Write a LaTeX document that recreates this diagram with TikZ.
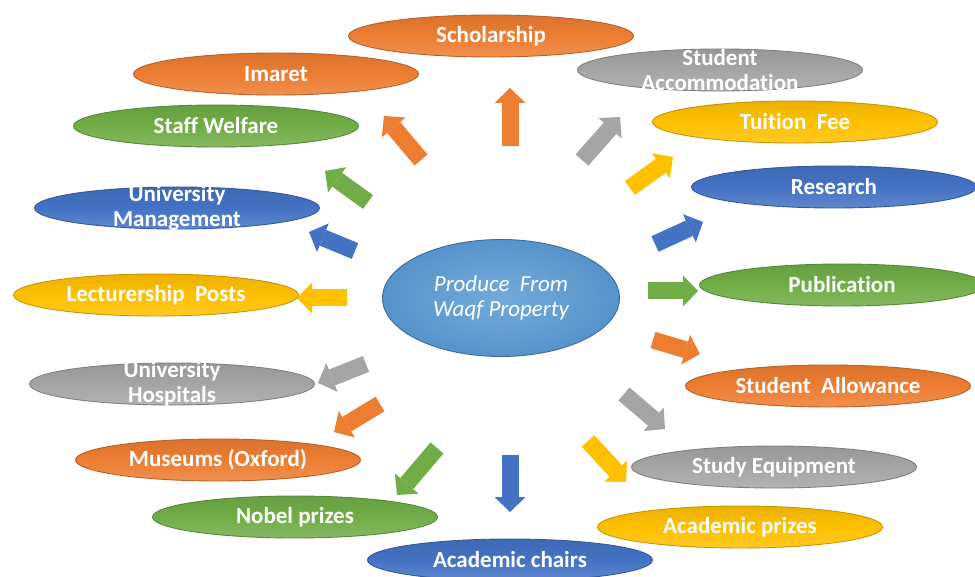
\documentclass[tikz,border=0pt]{standalone}
\usepackage{fontspec}
\setmainfont{Carlito}[Ligatures=NoCommon]
\usetikzlibrary{arrows.meta,shapes.geometric}
\definecolor{cOrange}{HTML}{ED7D31}
\definecolor{cGray}{HTML}{A5A5A5}
\definecolor{cYellow}{HTML}{FFC000}
\definecolor{cBlue}{HTML}{4472C4}
\definecolor{cGreen}{HTML}{70AD47}
\definecolor{cCenter}{HTML}{5B9BD5}
\tikzset{
  oval/.style={ellipse, draw=#1!78!black, line width=0.9pt,
    top color=#1!92!black, bottom color=#1!85!white, middle color=#1,
    minimum width=285pt, minimum height=42pt, inner sep=0pt},
  lbl/.style={text=white, font=\fontsize{23}{25}\selectfont\bfseries, align=center, inner sep=0pt},
  blockarrow/.style={draw=#1, line width=17pt,
    -{Triangle[width=31pt,length=15pt,line width=0pt]}},
}
\begin{document}
\begin{tikzpicture}[x=1pt,y=-1pt]
\clip (0,0) rectangle (975,577);
\useasboundingbox (0,0) rectangle (975,577);
\fill[white] (0,0) rectangle (975,577);

% centre
\node[ellipse, minimum width=237pt, minimum height=117pt, inner sep=0pt,
      inner color=cCenter!85!white, outer color=cCenter!95!black,
      draw=cCenter!70!black, line width=0.9pt] (center) at (501,298) {};
\node[text=white, font=\fontsize{23}{25}\selectfont\itshape, align=center, inner sep=0pt]
  (center-t) at (center) {Produce\ \ From\\Waqf Property};

% outer ovals
\node[oval=cOrange] (schol) at (491,36) {};
\node[lbl] (schol-t) at (schol) {Scholarship};
\node[oval=cGray] (accom) at (720,70) {};
\node[lbl] (accom-t) at (accom) {Student\\Accommodation};
\node[oval=cOrange] (imaret) at (276,74) {};
\node[lbl] (imaret-t) at (imaret) {Imaret};
\node[oval=cYellow] (tuition) at (795,122) {};
\node[lbl] (tuition-t) at (tuition) {Tuition\ \ Fee};
\node[oval=cGreen] (staff) at (216,126) {};
\node[lbl] (staff-t) at (staff) {Staff Welfare};
\node[oval=cBlue] (research) at (834,187) {};
\node[lbl] (research-t) at (research) {Research};
\node[oval=cBlue] (mgmt) at (177,208) {};
\node[lbl] (mgmt-t) at (mgmt) {University\\Management};
\node[oval=cYellow] (lect) at (156,295) {};
\node[lbl] (lect-t) at (lect) {Lecturership\ \ Posts};
\node[oval=cGreen] (pub) at (842,285) {};
\node[lbl] (pub-t) at (pub) {Publication};
\node[oval=cGray] (hosp) at (172,384) {};
\node[lbl] (hosp-t) at (hosp) {University\\Hospitals};
\node[oval=cOrange] (allow) at (828,386) {};
\node[lbl] (allow-t) at (allow) {Student\ \ Allowance};
\node[oval=cOrange] (museum) at (218,460) {};
\node[lbl] (museum-t) at (museum) {Museums (Oxford)};
\node[oval=cGray] (equip) at (774,467) {};
\node[lbl] (equip-t) at (equip) {Study Equipment};
\node[oval=cGreen] (nobel) at (295,517) {};
\node[lbl] (nobel-t) at (nobel) {Nobel prizes};
\node[oval=cYellow] (aprize) at (740,527) {};
\node[lbl] (aprize-t) at (aprize) {Academic prizes};
\node[oval=cBlue] (chairs) at (510,560) {};
\node[lbl] (chairs-t) at (chairs) {Academic chairs};

% arrow end points
\coordinate (a1s) at (510,146);  \coordinate (a1e) at (510,88);
\coordinate (a2s) at (421,160);  \coordinate (a2e) at (384,116);
\coordinate (a3s) at (368,202);  \coordinate (a3e) at (325,171);
\coordinate (a4s) at (355,251);  \coordinate (a4e) at (309,232);
\coordinate (a5s) at (347,298);  \coordinate (a5e) at (297,298);
\coordinate (a6s) at (366,364);  \coordinate (a6e) at (318,383);
\coordinate (a7s) at (380,404);  \coordinate (a7e) at (334,432);
\coordinate (a8s) at (437,448);  \coordinate (a8e) at (397,495);
\coordinate (a9s) at (510,455);  \coordinate (a9e) at (510,512);
\coordinate (a10s) at (588,441); \coordinate (a10e) at (626,482);
\coordinate (a11s) at (624,394); \coordinate (a11e) at (665,429);
\coordinate (a12s) at (653,340); \coordinate (a12e) at (700,354);
\coordinate (a13s) at (648,291); \coordinate (a13e) at (698,291);
\coordinate (a14s) at (655,244); \coordinate (a14e) at (703,222);
\coordinate (a15s) at (630,188); \coordinate (a15e) at (673,157);
\coordinate (a16s) at (582,160); \coordinate (a16e) at (620,117);

\draw[blockarrow=cOrange] (a1s) -- (a1e);
\draw[blockarrow=cOrange] (a2s) -- (a2e);
\draw[blockarrow=cGreen]  (a3s) -- (a3e);
\draw[blockarrow=cBlue]   (a4s) -- (a4e);
\draw[blockarrow=cYellow] (a5s) -- (a5e);
\draw[blockarrow=cGray]   (a6s) -- (a6e);
\draw[blockarrow=cOrange] (a7s) -- (a7e);
\draw[blockarrow=cGreen]  (a8s) -- (a8e);
\draw[blockarrow=cBlue]   (a9s) -- (a9e);
\draw[blockarrow=cYellow] (a10s) -- (a10e);
\draw[blockarrow=cGray]   (a11s) -- (a11e);
\draw[blockarrow=cOrange] (a12s) -- (a12e);
\draw[blockarrow=cGreen]  (a13s) -- (a13e);
\draw[blockarrow=cBlue]   (a14s) -- (a14e);
\draw[blockarrow=cYellow] (a15s) -- (a15e);
\draw[blockarrow=cGray]   (a16s) -- (a16e);
\end{tikzpicture}
\end{document}
